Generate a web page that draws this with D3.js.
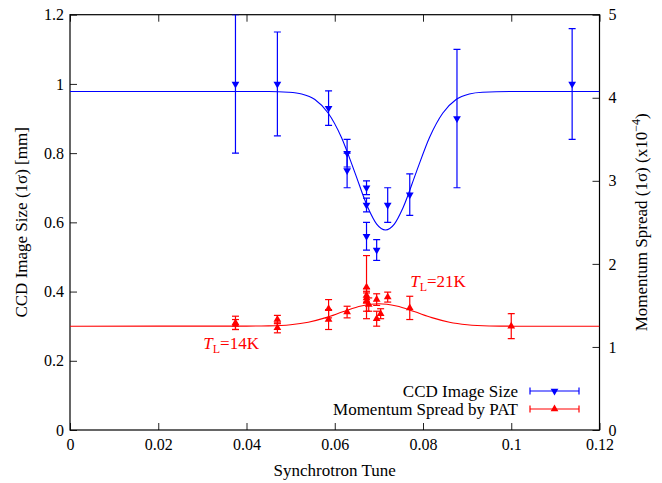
<!DOCTYPE html>
<html>
<head>
<meta charset="utf-8">
<script src="https://cdn.jsdelivr.net/npm/d3@7"></script>
<style>
  body { margin: 0; background: #fff; }
  svg text { font-family: "Liberation Serif", "Times New Roman", Times, "DejaVu Serif", serif; }
</style>
</head>
<body>
<div id="chart"></div>
<script>
const width = 662;
const height = 483;

// CCD image size, left axis [mm]
const blueTune = [0.0375, 0.047, 0.0586, 0.0628, 0.0628, 0.0672, 0.0672, 0.0672, 0.0695, 0.072, 0.077, 0.0877, 0.1138];
const blueSize = [1.0, 1.0, 0.93, 0.80, 0.75, 0.70, 0.65, 0.56, 0.52, 0.65, 0.68, 0.90, 1.0];
const blueErr  = [0.2, 0.15, 0.05, 0.04, 0.05, 0.02, 0.02, 0.04, 0.03, 0.05, 0.06, 0.2, 0.16];

// momentum spread by PAT, right axis (x1e-4)
const redTune   = [0.0375, 0.0375, 0.047, 0.047, 0.0586, 0.0586, 0.0628, 0.0672, 0.0672, 0.0672, 0.0672, 0.0677, 0.0695, 0.0695, 0.0704, 0.072, 0.077, 0.1];
const redSpread = [1.29, 1.27, 1.33, 1.23, 1.46, 1.33, 1.42, 1.72, 1.62, 1.59, 1.55, 1.51, 1.57, 1.34, 1.40, 1.60, 1.47, 1.25];
const redErr    = [0.08, 0.06, 0.05, 0.06, 0.11, 0.12, 0.07, 0.38, 0.08, 0.06, 0.12, 0.08, 0.07, 0.09, 0.06, 0.06, 0.14, 0.15];

// fitted curves
const blueFitTune = [0, 0.045, 0.0495, 0.0525, 0.0555, 0.0585, 0.0615, 0.0645, 0.0675, 0.0695, 0.0715, 0.0735, 0.0755, 0.0785, 0.0815, 0.0845, 0.0875, 0.0905, 0.0935, 0.1, 0.12];
const blueFitSize = [0.978, 0.978, 0.976, 0.971, 0.955, 0.916, 0.846, 0.746, 0.643, 0.595, 0.578, 0.595, 0.643, 0.746, 0.846, 0.916, 0.955, 0.971, 0.976, 0.978, 0.978];
const redFitTune   = [0, 0.04, 0.045, 0.05, 0.054, 0.058, 0.062, 0.066, 0.070, 0.074, 0.078, 0.082, 0.086, 0.090, 0.095, 0.10, 0.12];
const redFitSpread = [1.25, 1.251, 1.254, 1.268, 1.298, 1.353, 1.426, 1.492, 1.52, 1.492, 1.426, 1.353, 1.298, 1.268, 1.253, 1.25, 1.25];

const xTicks = [0, 0.02, 0.04, 0.06, 0.08, 0.1, 0.12];
const yLeftTicks = [0, 0.2, 0.4, 0.6, 0.8, 1, 1.2];
const yRightTicks = [0, 1, 2, 3, 4, 5];

const plotLeft = 70, plotRight = 599.5, plotTop = 14.7, plotBottom = 430;
const blue = "#0000ff";
const red = "#ff0000";
const serif = "'Liberation Serif', 'Times New Roman', Times, 'DejaVu Serif', serif";

const svg = d3.select("#chart").append("svg").attr("width", width).attr("height", height)
    .style("font-family", serif);

const x = d3.scaleLinear().domain([0, 0.12]).range([plotLeft, plotRight]);
const yLeft = d3.scaleLinear().domain([0, 1.2]).range([plotBottom, plotTop]);
const yRight = d3.scaleLinear().domain([0, 5]).range([plotBottom, plotTop]);

const fmt = d => String(+d.toFixed(3));

svg.append("defs").append("clipPath").attr("id", "plot-clip")
    .append("rect")
    .attr("x", plotLeft).attr("y", plotTop)
    .attr("width", plotRight - plotLeft).attr("height", plotBottom - plotTop);

// axes with inward ticks
function styleAxis(g) {
    g.attr("font-family", null).attr("font-size", null);
    g.select(".domain").remove();
    g.selectAll(".tick line").attr("stroke", "#222");
    g.selectAll(".tick text").attr("fill", "#000").style("font-size", "16px")
        .style("font-family", serif);
}

svg.append("g").attr("transform", `translate(0,${plotBottom})`)
    .call(d3.axisBottom(x).tickValues(xTicks).tickFormat(fmt).tickSizeInner(-7).tickSizeOuter(0).tickPadding(9))
    .call(styleAxis);
svg.append("g").attr("transform", `translate(0,${plotTop})`)
    .call(d3.axisTop(x).tickValues(xTicks).tickFormat("").tickSizeInner(-7).tickSizeOuter(0))
    .call(styleAxis);
svg.append("g").attr("transform", `translate(${plotLeft},0)`)
    .call(d3.axisLeft(yLeft).tickValues(yLeftTicks).tickFormat(fmt).tickSizeInner(-7).tickSizeOuter(0).tickPadding(6))
    .call(styleAxis);
svg.append("g").attr("transform", `translate(${plotRight},0)`)
    .call(d3.axisRight(yRight).tickValues(yRightTicks).tickFormat(fmt).tickSizeInner(-7).tickSizeOuter(0).tickPadding(9))
    .call(styleAxis);

svg.append("rect")
    .attr("x", plotLeft).attr("y", plotTop)
    .attr("width", plotRight - plotLeft).attr("height", plotBottom - plotTop)
    .attr("fill", "none").attr("stroke", "#000").attr("stroke-width", 1.2);

// axis titles
svg.append("text")
    .attr("x", (plotLeft + plotRight) / 2).attr("y", 476)
    .attr("text-anchor", "middle").style("font-size", "17px")
    .text("Synchrotron Tune");

svg.append("text")
    .attr("transform", `translate(27,${(plotTop + plotBottom) / 2}) rotate(-90)`)
    .attr("text-anchor", "middle").style("font-size", "17px")
    .text("CCD Image Size (1σ) [mm]");

const rightTitle = svg.append("text")
    .attr("transform", `translate(647,${(plotTop + plotBottom) / 2}) rotate(-90)`)
    .attr("text-anchor", "middle").style("font-size", "17px");
rightTitle.append("tspan").text("Momentum Spread (1σ) (x10");
rightTitle.append("tspan").attr("dy", -7).style("font-size", "12px").text("−4");
rightTitle.append("tspan").attr("dy", 7).text(")");

// plot contents
const plot = svg.append("g").attr("clip-path", "url(#plot-clip)");

const blueLine = d3.line().x(d => x(d[0])).y(d => yLeft(d[1])).curve(d3.curveMonotoneX);
const redLine = d3.line().x(d => x(d[0])).y(d => yRight(d[1])).curve(d3.curveMonotoneX);

plot.append("path")
    .datum(blueFitTune.map((t, i) => [t, blueFitSize[i]]))
    .attr("d", blueLine).attr("fill", "none").attr("stroke", blue).attr("stroke-width", 1.1);

plot.append("path")
    .datum(redFitTune.map((t, i) => [t, redFitSpread[i]]))
    .attr("d", redLine).attr("fill", "none").attr("stroke", red).attr("stroke-width", 1.1);

const cap = 3.5;
const triUp = d3.symbol().type(d3.symbolTriangle).size(26);

function drawErrorSeries(tunes, values, errs, yScale, color, down) {
    const pts = tunes.map((t, i) => ({ t: t, v: values[i], e: errs[i] }));
    const g = plot.append("g");
    const bars = g.selectAll("g.bar").data(pts).enter().append("g").attr("class", "bar");
    bars.append("line")
        .attr("x1", d => x(d.t)).attr("x2", d => x(d.t))
        .attr("y1", d => yScale(d.v - d.e)).attr("y2", d => yScale(d.v + d.e))
        .attr("stroke", color).attr("stroke-width", 1.2);
    bars.append("line")
        .attr("x1", d => x(d.t) - cap).attr("x2", d => x(d.t) + cap)
        .attr("y1", d => yScale(d.v + d.e)).attr("y2", d => yScale(d.v + d.e))
        .attr("stroke", color).attr("stroke-width", 1.2);
    bars.append("line")
        .attr("x1", d => x(d.t) - cap).attr("x2", d => x(d.t) + cap)
        .attr("y1", d => yScale(d.v - d.e)).attr("y2", d => yScale(d.v - d.e))
        .attr("stroke", color).attr("stroke-width", 1.2);
    g.selectAll("path.pt").data(pts).enter().append("path")
        .attr("class", "pt")
        .attr("d", triUp)
        .attr("transform", d => `translate(${x(d.t)},${yScale(d.v)})${down ? " rotate(180)" : ""}`)
        .attr("fill", color);
}

drawErrorSeries(blueTune, blueSize, blueErr, yLeft, blue, true);
drawErrorSeries(redTune, redSpread, redErr, yRight, red, false);

// annotations
function tempLabel(px, py, value) {
    const t = svg.append("text").attr("x", px).attr("y", py)
        .attr("fill", red).style("font-size", "17px");
    t.append("tspan").style("font-style", "italic").text("T");
    t.append("tspan").attr("dy", 4).style("font-size", "12px").text("L");
    t.append("tspan").attr("dy", -4).text("=" + value);
}
tempLabel(x(0.0302), 349, "14K");
tempLabel(x(0.0771), 287, "21K");

// legend
const legendItems = [
    { label: "CCD Image Size", color: blue, down: true, y: 391 },
    { label: "Momentum Spread by PAT", color: red, down: false, y: 409 }
];
const lg = svg.append("g");
legendItems.forEach(item => {
    lg.append("text")
        .attr("x", 518).attr("y", item.y).attr("dy", "0.35em")
        .attr("text-anchor", "end").style("font-size", "17px")
        .text(item.label);
    lg.append("line").attr("x1", 530).attr("x2", 579).attr("y1", item.y).attr("y2", item.y)
        .attr("stroke", item.color).attr("stroke-width", 1.2);
    [530, 579].forEach(cx => {
        lg.append("line").attr("x1", cx).attr("x2", cx).attr("y1", item.y - cap).attr("y2", item.y + cap)
            .attr("stroke", item.color).attr("stroke-width", 1.2);
    });
    lg.append("path").attr("d", triUp)
        .attr("transform", `translate(554.5,${item.y})${item.down ? " rotate(180)" : ""}`)
        .attr("fill", item.color);
});
</script>
</body>
</html>
